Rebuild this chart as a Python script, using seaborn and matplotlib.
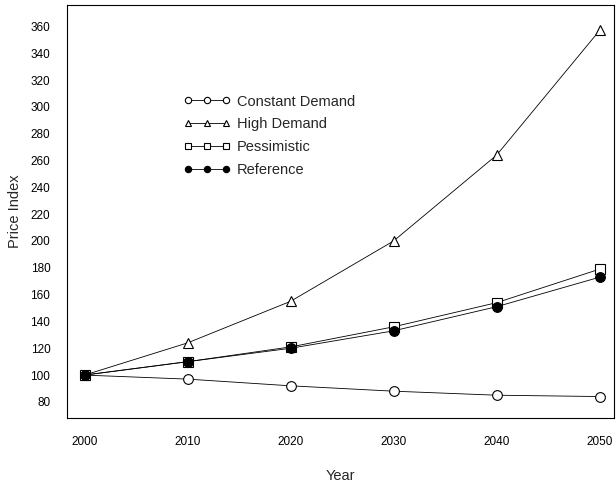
import matplotlib
matplotlib.use("Agg")
import matplotlib.pyplot as plt
import seaborn as sns
import pandas as pd

years = [2000, 2010, 2020, 2030, 2040, 2050]
constant_demand = [100, 97, 92, 88, 85, 84]
high_demand = [100, 124, 155, 200, 264, 357]
pessimistic = [100, 110, 121, 136, 154, 179]
reference = [100, 110, 120, 133, 151, 173]

series_names = ["Constant Demand", "High Demand", "Pessimistic", "Reference"]
series_values = [constant_demand, high_demand, pessimistic, reference]
markers = ["o", "^", "s", "o"]
faces = ["white", "white", "white", "black"]

sns.set_style("white")
plt.rcParams["font.family"] = ["Liberation Sans", "DejaVu Sans"]

fig = plt.figure(figsize=(6.16, 4.87), dpi=100)
ax = fig.add_axes([67 / 616, 1 - 418 / 487, 547 / 616, 413 / 487])

for name, vals, m, fc in zip(series_names, series_values, markers, faces):
    df = pd.DataFrame({"Year": years, "Price Index": vals})
    sns.lineplot(data=df, x="Year", y="Price Index", ax=ax, color="black",
                 linewidth=0.6, marker=m, markersize=7, markerfacecolor=fc,
                 markeredgecolor="black", markeredgewidth=0.8, label=name)

ax.set_xlim(1998.3, 2051.4)
ax.set_ylim(68, 376)
ax.set_xticks(years)
ax.set_yticks(range(80, 361, 20))
ax.tick_params(length=0, labelsize=8.5, colors="black")
ax.tick_params(axis="x", pad=13)
ax.tick_params(axis="y", pad=12)
ax.set_xlabel("Year", fontsize=10.5, labelpad=15)
ax.set_ylabel("Price Index", fontsize=10.5, labelpad=6)
for s in ax.spines.values():
    s.set_color("black")
    s.set_linewidth(0.8)

leg = ax.legend(loc="upper left", bbox_to_anchor=(0.19, 0.815), frameon=False,
                numpoints=3, handlelength=3.2, markerscale=0.65,
                fontsize=10.5, labelspacing=0.6, handletextpad=0.4)

fig.savefig("out.png", dpi=100)
